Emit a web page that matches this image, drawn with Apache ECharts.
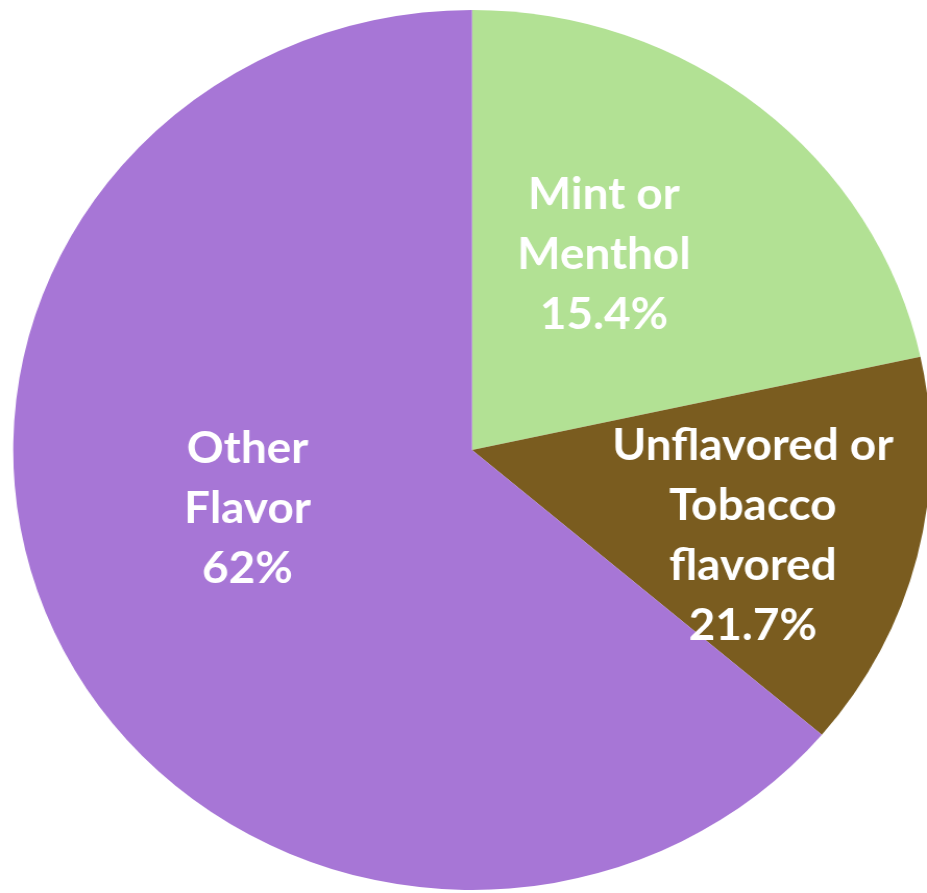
<!DOCTYPE html>
<html>
<head>
<meta charset="utf-8">
<script src="https://cdn.jsdelivr.net/npm/echarts@6/dist/echarts.min.js"></script>
<style>
html,body{margin:0;padding:0;background:#fff;overflow:hidden;}
#wrap{width:927px;height:893px;overflow:hidden;}
#chart{width:889px;height:893px;transform:scaleX(1.0427);transform-origin:0 0;}
</style>
</head>
<body>
<div id="wrap"><div id="chart"></div></div>
<script>
// Category names (as shown in the slice labels)
const categories = ['Mint or\nMenthol', 'Unflavored or\nTobacco\nflavored', 'Other\nFlavor'];
// Slice shares as drawn in the picture (angular size of each wedge)
const sliceShares = [21.6, 14.6, 63.8];
// Percent texts printed on the slices
const labelPercents = ['15.4%', '21.7%', '62%'];
const colors = ['#B2E194', '#7A5C1F', '#A776D6'];
const labelOffsets = [[-13.5, -22], [53, 32], [-13, -35]];

const chart = echarts.init(document.getElementById('chart'), null, {renderer: 'canvas'});
const data = categories.map((c, i) => ({
  name: c,
  value: sliceShares[i],
  itemStyle: {color: colors[i]},
  label: {offset: labelOffsets[i]}
}));
chart.setOption({
  animation: false,
  backgroundColor: '#ffffff',
  series: [{
    type: 'pie',
    center: [452.7, 450],
    radius: [0, 440],
    startAngle: 90,
    clockwise: true,
    silent: true,
    data: data,
    itemStyle: {borderWidth: 0},
    label: {
      show: true,
      position: 'inside',
      color: '#ffffff',
      fontFamily: 'Lato',
      fontWeight: 'bold',
      fontSize: 44,
      lineHeight: 60,
      align: 'center',
      formatter: (p) => p.name + '\n' + labelPercents[p.dataIndex]
    },
    labelLine: {show: false}
  }]
});
</script>
</body>
</html>
